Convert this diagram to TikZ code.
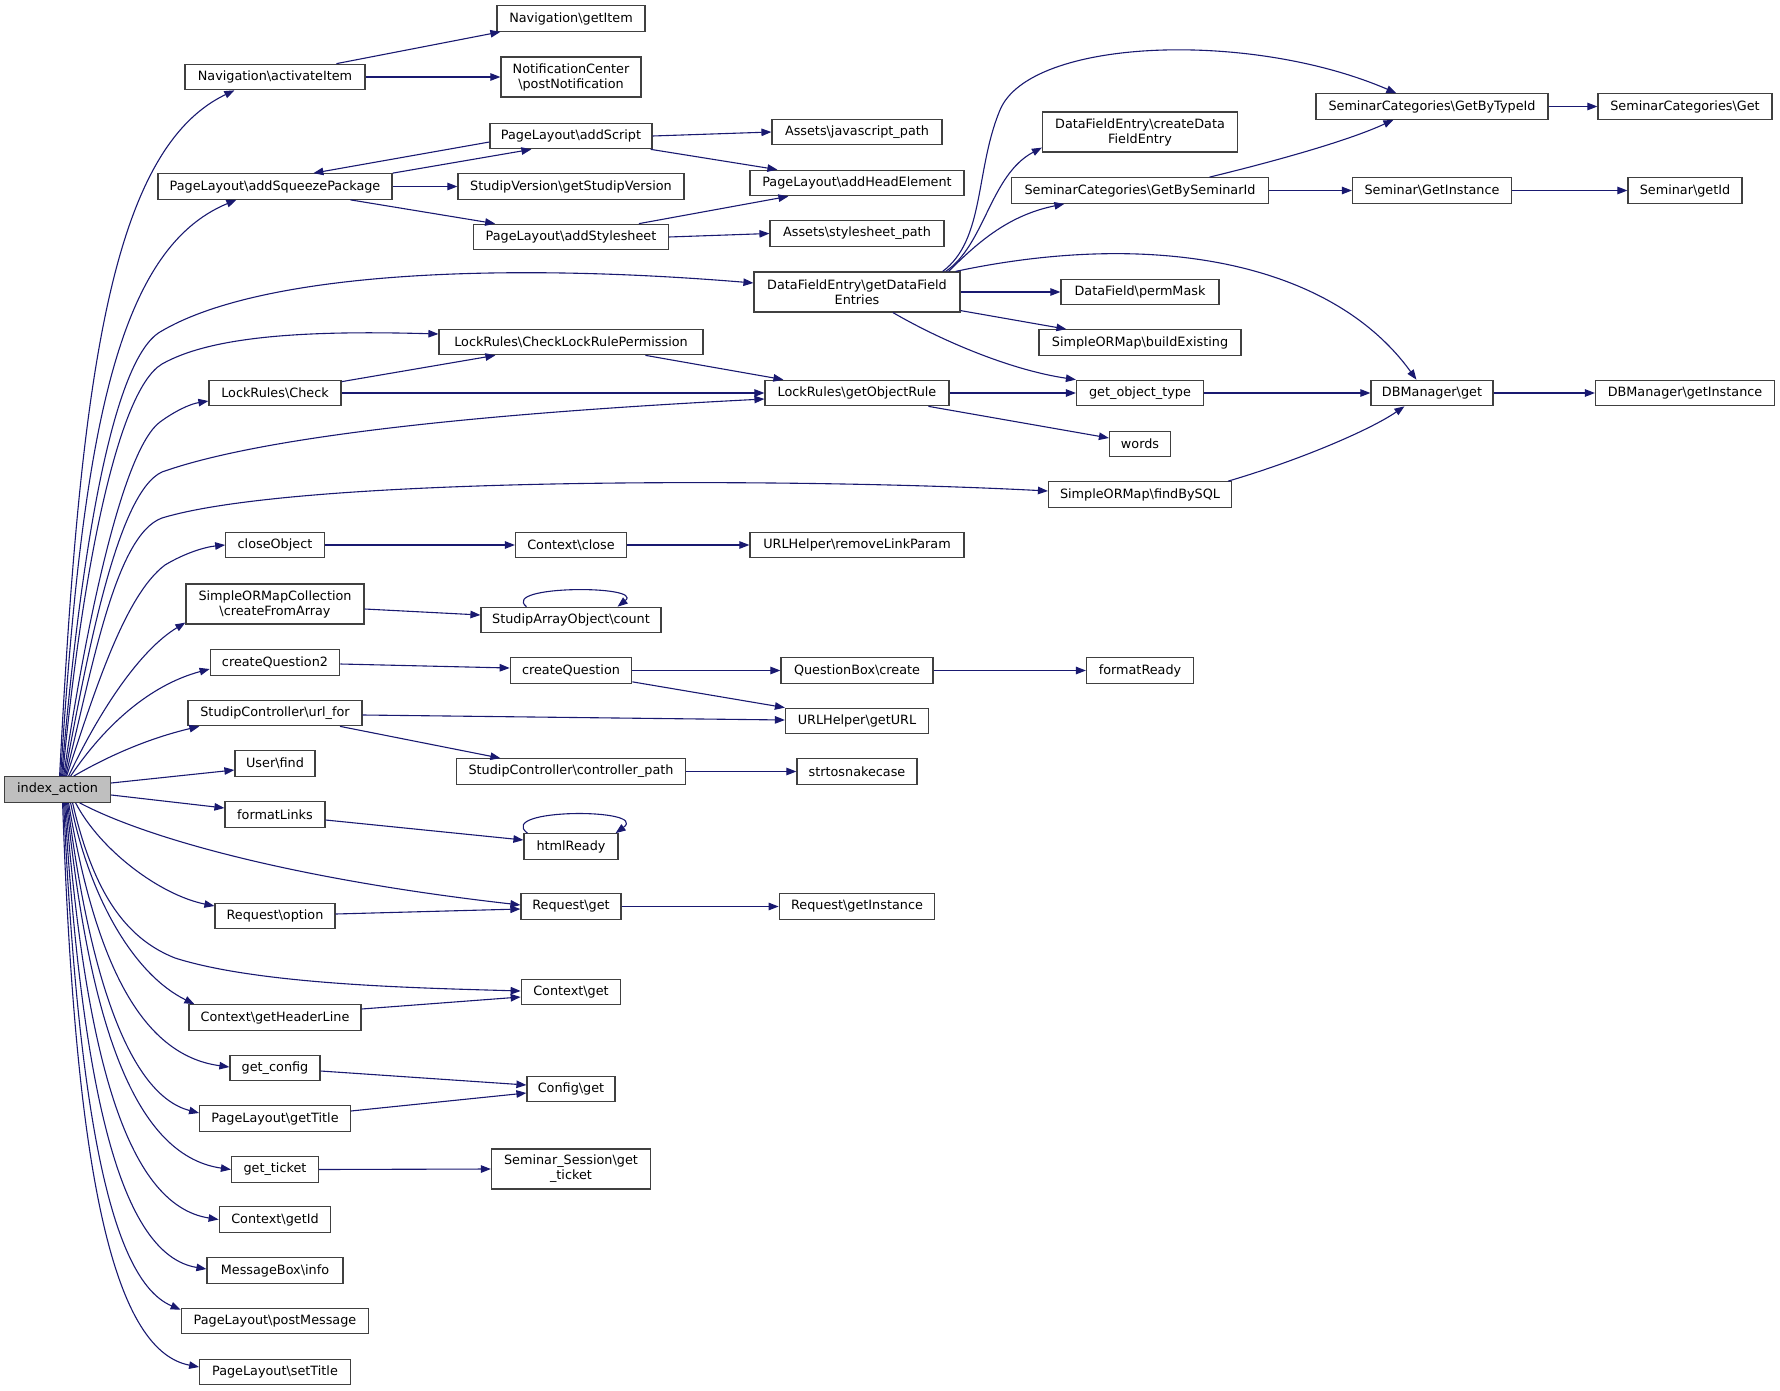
\documentclass[tikz,border=0pt]{standalone}
\usepackage{fontspec}
\setmainfont{DejaVu Sans}
\usetikzlibrary{arrows.meta,positioning}
\definecolor{edgeblue}{HTML}{191970}
\definecolor{boxgray}{HTML}{404040}
\definecolor{rootgray}{HTML}{BFBFBF}
\newcommand{\nsep}{\textbackslash}

\begin{document}
\begin{tikzpicture}[x=1pt, y=-1pt,
    box/.style={rectangle, draw=boxgray, line width=1.2pt, fill=white, minimum height=25.5pt,
        inner xsep=3pt, inner ysep=2pt, align=center, font=\fontsize{12.8}{15}\selectfont},
    box2/.style={box, minimum height=40pt},
    arrow/.style={-{Triangle[length=10pt,width=7.5pt]}, draw=edgeblue, line width=1.1pt}
]
\useasboundingbox (0,0) rectangle (1780,1391);

% Caller
\node[box, fill=rootgray, minimum width=106pt] (idx) at (57.6,789.5) {index\_action};

% Column 2
\node[box, minimum width=180pt] (nav) at (275,77) {Navigation\nsep activateItem};
\node[box, minimum width=234pt] (sqz) at (275,186.5) {PageLayout\nsep addSqueezePackage};
\node[box, minimum width=132pt] (check) at (275,393) {LockRules\nsep Check};
\node[box, minimum width=98.5pt] (closeobj) at (275,545) {closeObject};
\node[box2, minimum width=178pt] (fromarr) at (275,604) {SimpleORMapCollection\\\nsep createFromArray};
\node[box, minimum width=129.5pt] (q2) at (275,662.5) {createQuestion2};
\node[box, minimum width=174pt] (urlfor) at (275,713) {StudipController\nsep url\_for};
\node[box, minimum width=80pt] (userfind) at (275,763.5) {User\nsep find};
\node[box, minimum width=100pt] (fmtlinks) at (275,814.5) {formatLinks};
\node[box, minimum width=120pt] (reqopt) at (275,916) {Request\nsep option};
\node[box, minimum width=172pt] (hdrline) at (275,1017.5) {Context\nsep getHeaderLine};
\node[box, minimum width=90pt] (getcfg) at (275,1068) {get\_config};
\node[box, minimum width=150.6pt] (gettitle) at (275,1118.5) {PageLayout\nsep getTitle};
\node[box, minimum width=87pt] (getticket) at (275,1169.5) {get\_ticket};
\node[box, minimum width=111.6pt] (ctxid) at (275,1219.5) {Context\nsep getId};
\node[box, minimum width=136pt] (msginfo) at (275,1270.5) {MessageBox\nsep info};
\node[box, minimum width=187.5pt] (postmsg) at (275,1321) {PageLayout\nsep postMessage};
\node[box, minimum width=150.6pt] (settitle) at (275,1372) {PageLayout\nsep setTitle};

% Column 3
\node[box, minimum width=148pt] (getitem) at (571,18.5) {Navigation\nsep getItem};
\node[box2, minimum width=140pt] (notif) at (571,77) {NotificationCenter\\\nsep postNotification};
\node[box, minimum width=162pt] (addscript) at (571,136) {PageLayout\nsep addScript};
\node[box, minimum width=226pt] (version) at (571,186.5) {StudipVersion\nsep getStudipVersion};
\node[box, minimum width=194.5pt] (addstyle) at (571,237) {PageLayout\nsep addStylesheet};
\node[box, minimum width=264pt] (checkperm) at (571,342) {LockRules\nsep CheckLockRulePermission};
\node[box, minimum width=111pt] (ctxclose) at (571,545) {Context\nsep close};
\node[box, minimum width=180pt] (count) at (571,620) {StudipArrayObject\nsep count};
\node[box, minimum width=121.5pt] (quest) at (571,670.5) {createQuestion};
\node[box, minimum width=229pt] (ctrlpath) at (571,771.5) {StudipController\nsep controller\_path};
\node[box, minimum width=94pt] (html) at (571,846.5) {htmlReady};
\node[box, minimum width=100pt] (reqget) at (571,906.5) {Request\nsep get};
\node[box, minimum width=99.5pt] (ctxget) at (571,992) {Context\nsep get};
\node[box, minimum width=88pt] (cfgget) at (571,1089) {Config\nsep get};
\node[box2, minimum width=159pt] (session) at (571,1169) {Seminar\_Session\nsep get\\\_ticket};

% Column 4
\node[box, minimum width=170pt] (jspath) at (857,132) {Assets\nsep javascript\_path};
\node[box, minimum width=214pt] (headel) at (857,183) {PageLayout\nsep addHeadElement};
\node[box, minimum width=174pt] (csspath) at (857,233.5) {Assets\nsep stylesheet\_path};
\node[box2, minimum width=206pt] (dfe) at (857,292) {DataFieldEntry\nsep getDataField\\Entries};
\node[box, minimum width=184pt] (objrule) at (857,393) {LockRules\nsep getObjectRule};
\node[box, minimum width=214pt] (rmparam) at (857,545) {URLHelper\nsep removeLinkParam};
\node[box, minimum width=152pt] (qbox) at (857,670.5) {QuestionBox\nsep create};
\node[box, minimum width=143pt] (geturl) at (857,721) {URLHelper\nsep getURL};
\node[box, minimum width=120pt] (snake) at (857,771.5) {strtosnakecase};
\node[box, minimum width=155.5pt] (reqinst) at (857,906.5) {Request\nsep getInstance};

% Column 5
\node[box2, minimum width=195pt] (createdfe) at (1140,132) {DataFieldEntry\nsep createData\\FieldEntry};
\node[box, minimum width=257pt] (bysem) at (1140,190.5) {SeminarCategories\nsep GetBySeminarId};
\node[box, minimum width=158pt] (permmask) at (1140,292) {DataField\nsep permMask};
\node[box, minimum width=202pt] (buildex) at (1140,342.5) {SimpleORMap\nsep buildExisting};
\node[box, minimum width=127pt] (objtype) at (1140,393) {get\_object\_type};
\node[box, minimum width=61pt] (words) at (1140,444) {words};
\node[box, minimum width=183pt] (findsql) at (1140,494.5) {SimpleORMap\nsep findBySQL};
\node[box, minimum width=107pt] (fmtready) at (1140,670.5) {formatReady};

% Column 6 and 7
\node[box, minimum width=232pt] (bytype) at (1432,106.5) {SeminarCategories\nsep GetByTypeId};
\node[box, minimum width=159pt] (seminst) at (1432,190.5) {Seminar\nsep GetInstance};
\node[box, minimum width=122pt] (dbget) at (1432,393) {DBManager\nsep get};
\node[box, minimum width=174pt] (scget) at (1685,106.5) {SeminarCategories\nsep Get};
\node[box, minimum width=114pt] (semid) at (1685,190.5) {Seminar\nsep getId};
\node[box, minimum width=179pt] (dbinst) at (1685,393) {DBManager\nsep getInstance};

% Calls from index_action, upwards
\draw[arrow] ([xshift=2pt]idx.north) .. controls (80,380) and (110,150) .. ([xshift=50pt]nav.south west);
\draw[arrow] ([xshift=3pt]idx.north) .. controls (82,440) and (115,250) .. ([xshift=79pt]sqz.south west);
\draw[arrow] ([xshift=4pt]idx.north) .. controls (79,570) and (110,362) .. (160,332)
    .. controls (260,272) and (500,262) .. ([yshift=9pt]dfe.west);
\draw[arrow] ([xshift=5pt]idx.north) .. controls (80,590) and (115,392) .. (162,364)
    .. controls (210,337) and (300,330) .. ([yshift=8pt]checkperm.west);
\draw[arrow] ([xshift=6pt]idx.north) .. controls (85,630) and (122,450) .. (160,422)
    .. controls (175,411) and (190,404) .. ([yshift=-8pt]check.west);
\draw[arrow] ([xshift=7pt]idx.north) .. controls (88,650) and (118,492) .. (162,472)
    .. controls (280,430) and (550,410) .. ([yshift=-6pt]objrule.west);
\draw[arrow] ([xshift=8pt]idx.north) .. controls (92,670) and (115,535) .. (162,518)
    .. controls (300,476) and (800,478) .. ([yshift=3.5pt]findsql.west);
\draw[arrow] ([xshift=9pt]idx.north) .. controls (95,690) and (125,595) .. (165,565)
    .. controls (185,553) and (205,547) .. (closeobj.west);
\draw[arrow] ([xshift=11pt]idx.north) .. controls (100,710) and (140,650) .. ([yshift=2pt]fromarr.south west);
\draw[arrow] ([xshift=13pt]idx.north) .. controls (105,725) and (150,685) .. ([yshift=-6.5pt]q2.west);
\draw[arrow] ([xshift=16pt]idx.north) .. controls (110,755) and (150,738) .. ([xshift=12pt]urlfor.south west);
\draw[arrow] ([yshift=6.5pt]idx.east) -- ([yshift=-6.5pt]userfind.west);
\draw[arrow] ([yshift=-5.5pt]idx.east) -- ([yshift=6.5pt]fmtlinks.west);

% Calls from index_action, downwards
\draw[arrow] ([xshift=22pt]idx.south) .. controls (150,840) and (300,880) .. ([yshift=1.5pt]reqget.west);
\draw[arrow] ([xshift=18pt]idx.south) .. controls (100,850) and (160,895) .. ([yshift=10pt]reqopt.west);
\draw[arrow] ([xshift=15pt]idx.south) .. controls (95,900) and (130,940) .. (175,958)
    .. controls (260,985) and (420,988) .. ([yshift=1pt]ctxget.west);
\draw[arrow] ([xshift=13pt]idx.south) .. controls (90,900) and (135,975) .. ([xshift=6pt]hdrline.north west);
\draw[arrow] ([xshift=11pt]idx.south) .. controls (95,960) and (140,1055) .. ([yshift=1pt]getcfg.west);
\draw[arrow] ([xshift=10pt]idx.south) .. controls (90,980) and (130,1095) .. ([yshift=5.5pt]gettitle.west);
\draw[arrow] ([xshift=9pt]idx.south) .. controls (88,1010) and (130,1155) .. (getticket.west);
\draw[arrow] ([xshift=8pt]idx.south) .. controls (85,1050) and (125,1205) .. (ctxid.west);
\draw[arrow] ([xshift=7pt]idx.south) .. controls (82,1090) and (120,1255) .. ([yshift=1.5pt]msginfo.west);
\draw[arrow] ([xshift=6pt]idx.south) .. controls (78,1110) and (110,1280) .. ([yshift=-2pt]postmsg.north west);
\draw[arrow] ([xshift=5pt]idx.south) .. controls (75,1160) and (110,1350) .. ([yshift=5pt]settitle.west);

% Navigation and page layout
\draw[arrow] ([xshift=152pt]nav.north west) -- ([xshift=4pt]getitem.south west);
\draw[arrow] (nav.east) -- (notif.west);
\draw[arrow] (sqz.north east) -- ([xshift=42pt]addscript.south west);
\draw[arrow] ([yshift=-6pt]addscript.west) -- ([xshift=156pt]sqz.north west);
\draw[arrow] (sqz.east) -- (version.west);
\draw[arrow] ([xshift=193pt]sqz.south west) -- ([xshift=22pt]addstyle.north west);
\draw[arrow] (addscript.east) -- (jspath.west);
\draw[arrow] ([xshift=-2pt]addscript.south east) -- ([xshift=28pt]headel.north west);
\draw[arrow] ([xshift=-30pt]addstyle.north east) -- ([xshift=39pt]headel.south west);
\draw[arrow] (addstyle.east) -- (csspath.west);

% Data fields and seminar categories
\draw[arrow] ([xshift=-15pt]dfe.north east) .. controls (985,245) and (990,175) .. ([yshift=5pt]createdfe.south west);
\draw[arrow] ([xshift=-12pt]dfe.north east) .. controls (980,240) and (1010,215) .. ([xshift=53.5pt]bysem.south west);
\draw[arrow] ([xshift=-18pt]dfe.north east) .. controls (985,240) and (975,170) .. (1000,110)
    .. controls (1030,38) and (1250,30) .. ([xshift=81pt]bytype.north west);
\draw[arrow] ([xshift=-5pt]dfe.north east) .. controls (1150,230) and (1330,260) .. ([xshift=46pt]dbget.north west);
\draw[arrow] (dfe.east) -- (permmask.west);
\draw[arrow] ([yshift=2pt]dfe.south east) -- ([xshift=28pt]buildex.north west);
\draw[arrow] ([xshift=36pt]dfe.south) .. controls (940,340) and (1010,370) .. (objtype.north west);
\draw[arrow] ([xshift=198.5pt]bysem.north west) .. controls (1280,160) and (1350,140) .. ([xshift=78pt]bytype.south west);
\draw[arrow] (bysem.east) -- (seminst.west);
\draw[arrow] (bytype.east) -- (scget.west);
\draw[arrow] (seminst.east) -- (semid.west);

% Lock rules and DB manager
\draw[arrow] ([xshift=207pt]checkperm.south west) -- ([xshift=19pt]objrule.north west);
\draw[arrow] ([yshift=-2pt]check.north east) -- ([xshift=57pt]checkperm.south west);
\draw[arrow] (check.east) -- (objrule.west);
\draw[arrow] (objrule.east) -- (objtype.west);
\draw[arrow] ([xshift=164pt]objrule.south west) -- ([yshift=6pt]words.west);
\draw[arrow] (objtype.east) -- (dbget.west);
\draw[arrow] ([xshift=-4pt]findsql.north east) .. controls (1300,460) and (1370,430) .. ([xshift=34pt]dbget.south west);
\draw[arrow] (dbget.east) -- (dbinst.west);

% Remaining helpers
\draw[arrow] (closeobj.east) -- (ctxclose.west);
\draw[arrow] (ctxclose.east) -- (rmparam.west);
\draw[arrow] ([yshift=-5pt]fromarr.east) -- ([yshift=5pt]count.west);
\draw[arrow] ([xshift=46pt]count.north west) .. controls (500,585) and (645,585) .. ([xshift=-44pt]count.north east);
\draw[arrow] ([yshift=-1.5pt]q2.east) -- ([yshift=2.5pt]quest.west);
\draw[arrow] (quest.east) -- (qbox.west);
\draw[arrow] ([yshift=2pt]quest.south east) -- (geturl.north west);
\draw[arrow] (qbox.east) -- (fmtready.west);
\draw[arrow] ([yshift=-2pt]urlfor.east) -- ([yshift=1pt]geturl.west);
\draw[arrow] ([xshift=152.6pt]urlfor.south west) -- ([xshift=44.5pt]ctrlpath.north west);
\draw[arrow] (ctrlpath.east) -- (snake.west);
\draw[arrow] ([yshift=-5.5pt]fmtlinks.east) -- ([yshift=6.5pt]html.west);
\draw[arrow] ([xshift=4pt]html.north west) .. controls (495,808) and (650,808) .. ([xshift=-3pt]html.north east);
\draw[arrow] ([yshift=2pt]reqopt.east) -- ([yshift=-2.5pt]reqget.west);
\draw[arrow] (reqget.east) -- (reqinst.west);
\draw[arrow] ([yshift=8.5pt]hdrline.east) -- ([yshift=-5pt]ctxget.west);
\draw[arrow] ([yshift=-3pt]getcfg.east) -- ([yshift=4pt]cfgget.west);
\draw[arrow] ([yshift=7.5pt]gettitle.east) -- ([yshift=-4pt]cfgget.west);
\draw[arrow] (getticket.east) -- (session.west);

\end{tikzpicture}
\end{document}
